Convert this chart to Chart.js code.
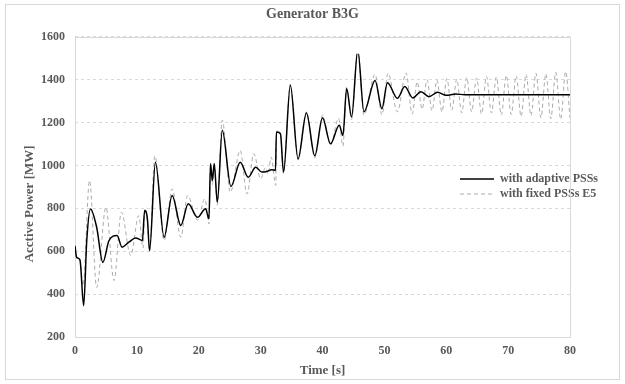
<!DOCTYPE html>
<html>
<head>
<meta charset="utf-8">
<script src="https://cdn.jsdelivr.net/npm/chart.js@4/dist/chart.umd.min.js"></script>
<style>
  html, body { margin: 0; padding: 0; background: #ffffff; }
  #c { display: block; }
</style>
</head>
<body>
<canvas id="c" width="625" height="384"></canvas>
<script>
// ---- data ----
const seriesNames = ['with adaptive PSSs', 'with fixed PSSs E5'];

const adaptiveTime = [0, 0.25, 0.8, 1.4, 1.9, 2.5, 3.5, 4.5, 5.5, 6.8, 7.6, 8.7, 9.8, 10.9, 11.25, 11.7, 12.05, 13.0, 14.4, 15.7, 17.1, 18.3, 19.8, 21.1, 21.65, 21.9, 22.2, 22.5, 23.0, 23.8, 25.2, 26.7, 28.0, 29.2, 30.2, 31.0, 31.8, 32.4, 32.55, 33.2, 33.7, 34.8, 36.05, 37.4, 38.75, 40.0, 41.3, 42.7, 43.3, 43.9, 44.7, 45.7, 46.7, 48.5, 49.6, 50.5, 52.1, 53.3, 54.6, 55.9, 57.2, 58.6, 60.0, 61.5, 63.0, 80.0];
const adaptivePower = [625, 572, 560, 346, 650, 797, 712, 548, 650, 673, 619, 642, 662, 650, 790, 751, 603, 1015, 665, 860, 720, 821, 758, 798, 751, 1008, 930, 1008, 829, 1164, 902, 1015, 945, 992, 969, 972, 980, 977, 1156, 1148, 969, 1374, 1031, 1245, 1045, 1222, 1101, 1187, 1140, 1359, 1226, 1538, 1250, 1396, 1265, 1386, 1313, 1368, 1315, 1344, 1321, 1341, 1327, 1333, 1330, 1330];

const fixedTime = [0, 0.25, 0.8, 1.3, 2.35, 3.5, 5.0, 6.3, 7.5, 9.0, 10.3, 11.0, 11.3, 11.7, 12.05, 12.9, 14.4, 15.7, 17.1, 18.2, 19.8, 21.0, 21.65, 21.9, 22.2, 22.5, 23.0, 23.8, 25.1, 26.7, 27.8, 28.9, 30.0, 30.8, 31.2, 31.7, 32.45, 32.6, 33.2, 33.7, 34.8, 36.05, 37.4, 38.75, 40.0, 41.3, 42.6, 43.3, 43.9, 44.7, 45.7, 46.7, 48.5, 49.6, 50.6, 52.1, 53.5, 54.5, 55.3, 56.1, 56.9, 57.7, 58.5, 59.3, 60.1, 60.9, 61.7, 62.5, 63.3, 64.1, 64.9, 65.7, 66.5, 67.3, 68.1, 68.9, 69.7, 70.5, 71.3, 72.1, 72.9, 73.7, 74.5, 75.3, 76.1, 76.9, 77.7, 78.5, 79.3, 80.0];
const fixedPower = [620, 575, 555, 440, 930, 431, 805, 463, 782, 580, 766, 615, 800, 740, 600, 1045, 650, 891, 665, 860, 745, 844, 727, 1010, 910, 1010, 815, 1212, 875, 1070, 867, 1055, 938, 990, 960, 1039, 907, 1160, 1150, 960, 1380, 1025, 1250, 1035, 1235, 1095, 1220, 1090, 1365, 1215, 1540, 1235, 1425, 1236, 1430, 1250, 1432, 1240, 1390, 1262, 1400, 1255, 1398, 1250, 1405, 1258, 1402, 1245, 1410, 1250, 1408, 1240, 1415, 1245, 1412, 1235, 1420, 1238, 1418, 1228, 1425, 1232, 1430, 1222, 1428, 1218, 1435, 1215, 1438, 1220];

const xTicks = [0, 10, 20, 30, 40, 50, 60, 70, 80];
const yTicks = [200, 400, 600, 800, 1000, 1200, 1400, 1600];

// ---- chart ----
const toPoints = (ts, vs) => ts.map((t, i) => ({ x: t, y: vs[i] }));
const FONT = "'Liberation Serif', 'Times New Roman', serif";
const TXT = '#595959';
const LIGHT = '#d9d9d9';

const frames = {
  id: 'frames',
  beforeDraw(chart) {
    const ctx = chart.ctx;
    ctx.save();
    ctx.strokeStyle = LIGHT;
    ctx.lineWidth = 1;
    ctx.strokeRect(5.5, 4.5, 614, 375);
    ctx.restore();
  },
  beforeDatasetsDraw(chart) {
    const a = chart.chartArea, ctx = chart.ctx;
    ctx.save();
    ctx.strokeStyle = LIGHT;
    ctx.lineWidth = 1;
    ctx.strokeRect(Math.round(a.left) + 0.5, Math.round(a.top) + 0.5, Math.round(a.right - a.left), Math.round(a.bottom - a.top));
    ctx.restore();
  },
  afterLayout(chart) {
    const lg = chart.legend;
    if (lg) {
      const w = lg.width, h = lg.height;
      lg.left = 457; lg.right = 457 + w;
      lg.top = 170; lg.bottom = 170 + h;
    }
    const tb = chart.titleBlock;
    if (tb) { tb.left = 0; tb.right = 625; }
    const ys = chart.scales.y;
    ys.top += 17; ys.bottom += 17;
  }
};

new Chart(document.getElementById('c'), {
  type: 'line',
  data: {
    datasets: [
      {
        label: seriesNames[0],
        data: toPoints(adaptiveTime, adaptivePower),
        borderColor: '#000000',
        backgroundColor: '#000000',
        borderWidth: 1.5,
        pointRadius: 0,
        cubicInterpolationMode: 'monotone',
        fill: false
      },
      {
        label: seriesNames[1],
        data: toPoints(fixedTime, fixedPower),
        borderColor: '#ababab',
        backgroundColor: '#ababab',
        borderWidth: 1,
        borderDash: [4, 3],
        pointRadius: 0,
        cubicInterpolationMode: 'monotone',
        fill: false
      }
    ]
  },
  options: {
    responsive: false,
    animation: false,
    events: [],
    layout: { padding: { left: 0, right: 55, top: 0, bottom: 0 } },
    plugins: {
      title: {
        display: true,
        text: 'Generator B3G',
        color: TXT,
        font: { family: FONT, size: 14, weight: 'bold' },
        padding: { top: 6, bottom: 14 }
      },
      legend: {
        position: 'chartArea',
        align: 'start',
        labels: {
          usePointStyle: true,
          pointStyle: 'line',
          pointStyleWidth: 34,
          boxHeight: 12,
          padding: 3,
          color: TXT,
          font: { family: FONT, size: 12, weight: 'bold' },
          generateLabels(chart) {
            const items = Chart.defaults.plugins.legend.labels.generateLabels(chart);
            items.forEach((it, i) => {
              const ds = chart.data.datasets[it.datasetIndex !== undefined ? it.datasetIndex : i];
              it.lineDash = ds.borderDash || [];
              it.strokeStyle = ds.borderColor;
              it.lineWidth = ds.borderWidth;
              it.pointStyle = 'line';
            });
            return items;
          }
        }
      },
      tooltip: { enabled: false }
    },
    scales: {
      x: {
        type: 'linear',
        min: 0,
        max: 80,
        afterBuildTicks: s => { s.ticks = xTicks.map(v => ({ value: v })); },
        afterFit: s => { s.height = 47; },
        grid: { display: false, drawTicks: false },
        border: { display: false },
        ticks: { padding: 7, color: TXT, font: { family: FONT, size: 12, weight: 'bold' }, maxRotation: 0, callback: v => String(v) },
        title: { display: true, text: 'Time [s]', color: TXT, font: { family: FONT, size: 13, weight: 'bold' }, padding: { top: 0, bottom: 6 } }
      },
      y: {
        type: 'linear',
        min: 200,
        max: 1600,
        afterBuildTicks: s => { s.ticks = yTicks.map(v => ({ value: v })); },
        afterFit: s => { s.width = 75; },
        grid: { color: LIGHT, lineWidth: 1, drawTicks: false },
        border: { display: false, color: LIGHT, dash: [3, 3] },
        ticks: { padding: 10, color: TXT, font: { family: FONT, size: 12, weight: 'bold' }, callback: v => String(v) },
        title: { display: true, text: 'Acctive Power [MW]', color: TXT, font: { family: FONT, size: 13, weight: 'bold' }, padding: { top: 22, bottom: 0 } }
      }
    }
  },
  plugins: [frames]
});
</script>
</body>
</html>
